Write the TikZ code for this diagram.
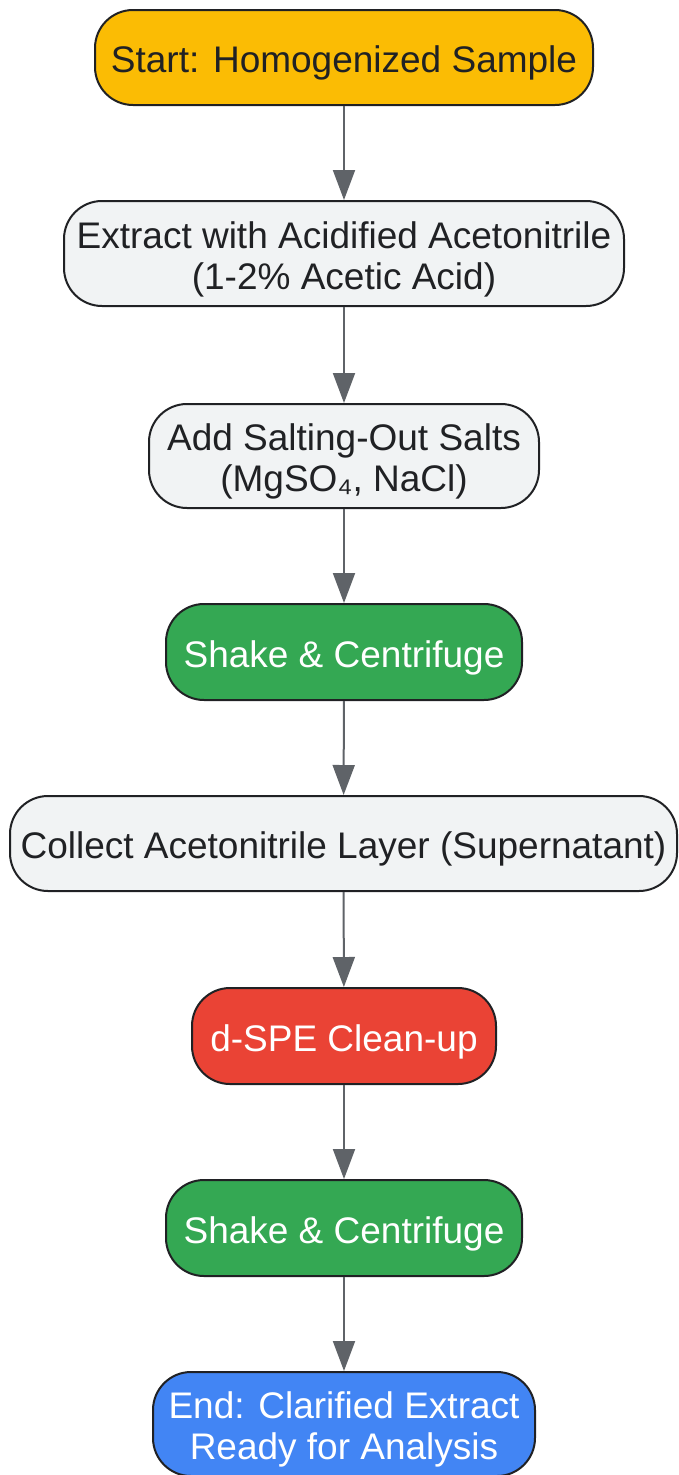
\documentclass[tikz,border=0pt]{standalone}
\usepackage{fontspec}
\setmainfont{Liberation Sans}
\usetikzlibrary{arrows.meta}
\definecolor{cyellow}{HTML}{FBBC04}
\definecolor{cgray}{HTML}{F1F3F4}
\definecolor{cgreen}{HTML}{34A853}
\definecolor{cred}{HTML}{EA4335}
\definecolor{cblue}{HTML}{4285F4}
\definecolor{cdark}{HTML}{202124}
\definecolor{carrow}{HTML}{5F6368}
\newcommand{\topstrut}{\rule{0pt}{38pt}}
\tikzset{
  box/.style={draw=cdark, line width=2pt, rounded corners=38pt, inner sep=0pt,
    align=center, font=\fontsize{37}{41}\selectfont, text=cdark},
  lightbox/.style={box, fill=cgray},
  conn/.style={draw=carrow, line width=2pt, -{Triangle[width=22pt,length=30pt]}}
}
\begin{document}
\begin{tikzpicture}[x=1pt,y=-1pt]
\useasboundingbox (0,0) rectangle (678,1475);
\node[box, fill=cyellow, minimum width=498pt, minimum height=95pt] (n1) at (344,57.5) {\topstrut Start: Homogenized Sample};
\node[lightbox, minimum width=560pt, minimum height=105pt] (n2) at (344,253.5) {\topstrut Extract with Acidified Acetonitrile\\(1-2\% Acetic Acid)};
\node[lightbox, minimum width=390pt, minimum height=104pt] (n3) at (344,456) {\topstrut Add Salting-Out Salts\\(MgSO₄, NaCl)};
\node[box, fill=cgreen, text=white, minimum width=356pt, minimum height=96pt] (n4) at (344,652) {\topstrut Shake \& Centrifuge};
\node[lightbox, minimum width=667pt, minimum height=95pt] (n5) at (343.5,843.5) {\topstrut Collect Acetonitrile Layer (Supernatant)};
\node[box, fill=cred, text=white, minimum width=304pt, minimum height=96pt] (n6) at (344,1036) {\topstrut d-SPE Clean-up};
\node[box, fill=cgreen, text=white, minimum width=356pt, minimum height=96pt] (n7) at (344,1228) {\topstrut Shake \& Centrifuge};
\node[box, fill=cblue, text=white, minimum width=382pt, minimum height=104pt] (n8) at (344,1424) {\topstrut End: Clarified Extract\\Ready for Analysis};
\draw[conn] (n1) -- (n2);
\draw[conn] (n2) -- (n3);
\draw[conn] (n3) -- (n4);
\draw[conn] (n4) -- (n5);
\draw[conn] (n5) -- (n6);
\draw[conn] (n6) -- (n7);
\draw[conn] (n7) -- (n8);
\end{tikzpicture}
\end{document}
